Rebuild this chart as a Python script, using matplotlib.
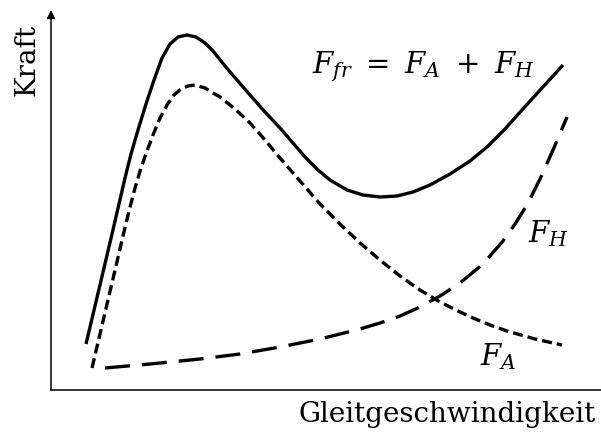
import matplotlib
matplotlib.use("Agg")
import matplotlib.pyplot as plt

# curve values (arbitrary units, origin at the axes corner)
ffr_x = [35, 44, 53, 61, 68, 74, 80, 87, 95, 103, 111, 119, 127, 136, 145, 154, 162,
         174, 186, 199, 214, 229, 242, 254, 267, 279, 296, 312, 329, 346, 362, 379,
         399, 419, 436, 454, 471, 491, 512]
ffr_y = [46, 84, 122, 156, 186, 212, 236, 260, 286, 310, 332, 346, 353, 355, 353, 347, 339,
         324, 310, 295, 278, 262, 247, 233, 220, 210, 200, 195, 193, 194, 198, 205,
         216, 229, 243, 261, 280, 302, 325]

fa_x = [41, 49, 57, 65, 72, 78, 84, 90, 96, 102, 109, 116, 123, 130, 137, 144, 154, 169,
        184, 199, 214, 229, 249, 269, 289, 309, 329, 349, 369, 389, 407, 422, 439, 456,
        484, 511]
fa_y = [22, 56, 90, 124, 154, 179, 202, 222, 239, 255, 272, 285, 295, 301, 304, 305, 302, 293,
        281, 267, 250, 232, 209, 186, 166, 147, 130, 114, 100, 88, 79, 72, 65, 59,
        51, 45]

fh_x = [54, 99, 149, 189, 229, 269, 309, 329, 349, 369, 389, 409, 432, 452, 464, 476, 489,
        502, 516]
fh_y = [22, 26, 31, 36, 43, 51, 61, 67, 74, 83, 94, 107, 126, 149, 166, 185, 211,
        240, 273]

plt.rcParams["mathtext.fontset"] = "dejavuserif"

fig = plt.figure(figsize=(6.01, 4.34), dpi=100)
ax = fig.add_axes([51 / 601, 44 / 434, 550 / 601, 380 / 434])
ax.set_xlim(0, 550)
ax.set_ylim(0, 380)
ax.set_xticks([])
ax.set_yticks([])
for side in ["top", "right", "left"]:
    ax.spines[side].set_visible(False)
ax.spines["bottom"].set_linewidth(1.1)

# y axis with arrow head
ax.annotate("", xy=(0, 1.0), xytext=(0, 0), xycoords="axes fraction",
            arrowprops=dict(arrowstyle="-|>", lw=1.1, color="black",
                            mutation_scale=12, shrinkA=0, shrinkB=0))

ax.plot(ffr_x, ffr_y, color="black", lw=2.4, solid_capstyle="butt",
        solid_joinstyle="round", clip_on=False)
ax.plot(fa_x, fa_y, color="black", lw=2.4, dashes=(3.0, 1.5),
        dash_joinstyle="round", clip_on=False)
ax.plot(fh_x, fh_y, color="black", lw=2.4, dashes=(7.5, 3.6),
        dash_joinstyle="round", clip_on=False)

ax.text(261, 317, r"$F_{fr}\ =\ F_A\ +\ F_H$", fontsize=21, va="baseline", ha="left")
ax.text(477, 148, r"$F_H$", fontsize=21, va="baseline", ha="left")
ax.text(429, 25, r"$F_A$", fontsize=21, va="baseline", ha="left")

fig.text(27 / 601, 1 - 60 / 434, "Kraft", family="DejaVu Serif", fontsize=20,
         rotation=90, ha="center", va="center")
fig.text(447 / 601, 1 - 415 / 434, "Gleitgeschwindigkeit", family="DejaVu Serif",
         fontsize=20, ha="center", va="center")

fig.savefig("out.png", dpi=100)
